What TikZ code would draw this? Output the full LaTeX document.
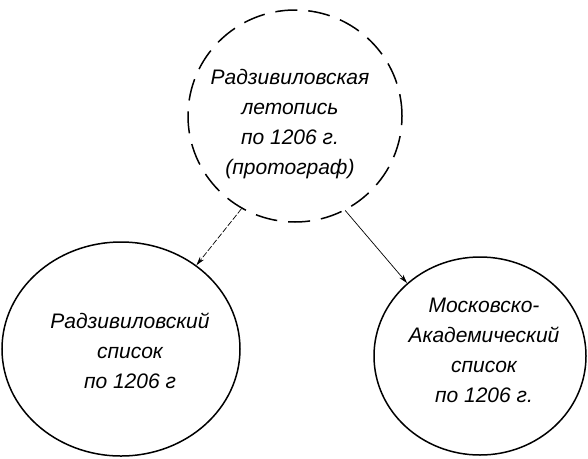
\documentclass[tikz,border=0pt]{standalone}
\usepackage{fontspec}
\setmainfont{Liberation Sans}
\usetikzlibrary{shapes.geometric,arrows.meta}
\begin{document}
\begin{tikzpicture}[x=1pt,y=-1pt,
  circ/.style={draw,ellipse,line width=1.5pt,inner sep=0pt},
  txt/.style={align=center,inner sep=0pt,font=\fontsize{21}{30}\selectfont\itshape},
  link/.style={line width=0.7pt,-{Stealth[length=9pt,width=5pt]}}]
\useasboundingbox (0,0) rectangle (588,458);
\node[circ,dashed,dash pattern=on 22pt off 11pt,minimum width=214pt,minimum height=212pt] (top) at (295,116) {};
\node[txt] (toptext) at (290,124) {Радзивиловская\\летопись\\по 1206 г.\\(протограф)};
\node[circ,minimum width=238pt,minimum height=214pt] (left) at (121,349) {};
\node[txt] (lefttext) at (130,351) {Радзивиловский\\список\\по 1206 г};
\node[circ,minimum width=212pt,minimum height=198pt] (right) at (480,356) {};
\node[txt] (righttext) at (484,350) {Московско-\\Академический\\список\\по 1206 г.};
\draw[link,dash pattern=on 6pt off 2pt] (top.240) -- (left.48);
\draw[link] (top.298) -- (right.135);
\end{tikzpicture}
\end{document}
